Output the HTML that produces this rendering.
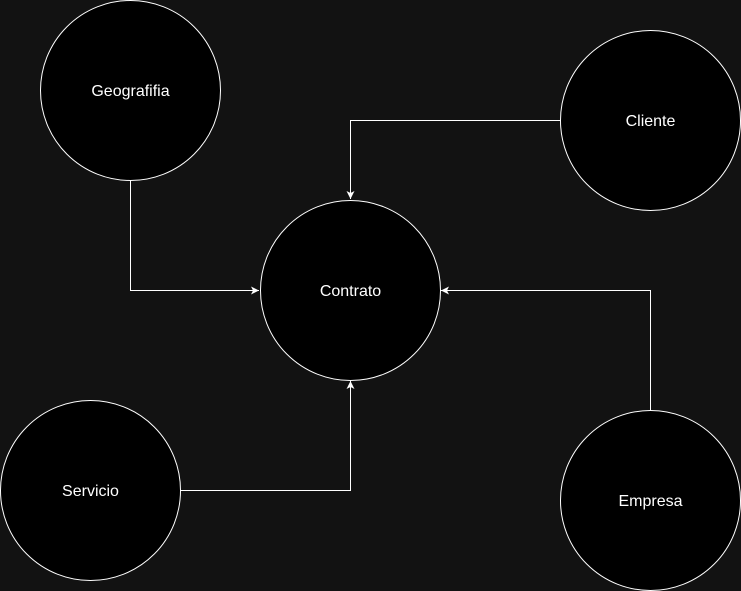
<!DOCTYPE html>
<html><head><style>html,body{margin:0;padding:0;background:#121212;}</style></head>
<body>
<svg width="741" height="591" xmlns="http://www.w3.org/2000/svg" style="display:block">
<rect width="741" height="591" fill="#121212"/>
<defs><marker id="a" markerWidth="10" markerHeight="10" refX="9" refY="5" orient="auto" markerUnits="userSpaceOnUse"><path d="M1,1 L9,5 L1,9 L3,5 Z" fill="#fff"/></marker></defs>
<g fill="none" stroke="#fff" stroke-width="1">
<path d="M130.5,180 V290.5 H259" marker-end="url(#a)"/>
<path d="M560,120.5 H350.5 V199" marker-end="url(#a)"/>
<path d="M650.5,410 V290.5 H441" marker-end="url(#a)"/>
<path d="M180,490.5 H350.5 V381" marker-end="url(#a)"/>
</g>
<g fill="#000" stroke="#fff" stroke-width="1">
<circle cx="130.5" cy="90.5" r="90"/>
<circle cx="650.5" cy="120.5" r="90"/>
<circle cx="350.5" cy="290.5" r="90"/>
<circle cx="90.5" cy="490.5" r="90"/>
<circle cx="650.5" cy="500.5" r="90"/>
</g>
<g fill="#fff" font-family="Liberation Sans, sans-serif" font-size="16" text-anchor="middle">
<text x="130.5" y="96">Geografifia</text>
<text x="650.5" y="126">Cliente</text>
<text x="350.5" y="296">Contrato</text>
<text x="90.5" y="496">Servicio</text>
<text x="650.5" y="506">Empresa</text>
</g>
</svg>
</body></html>
